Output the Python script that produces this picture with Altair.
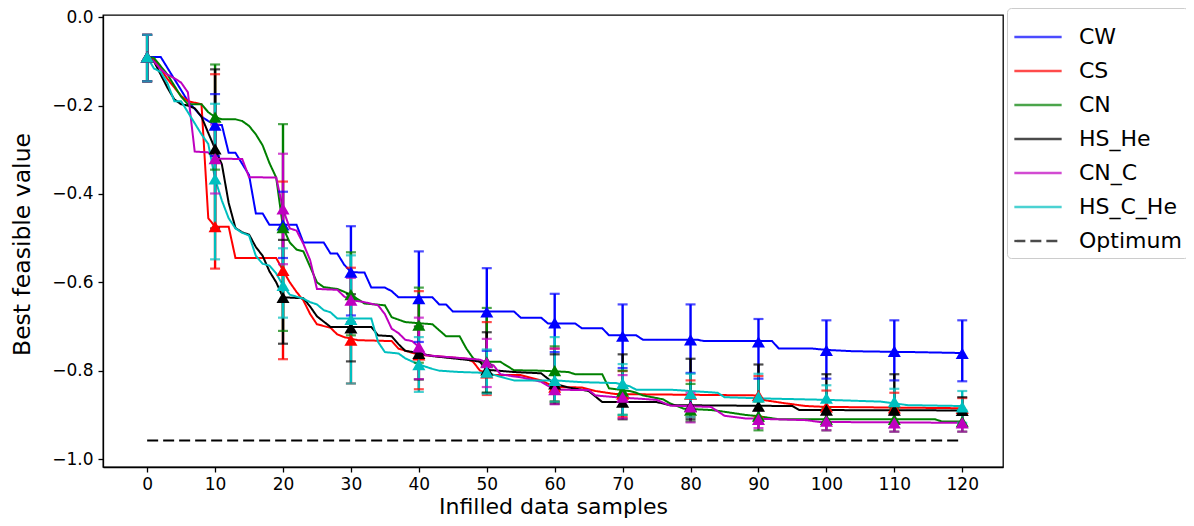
import altair as alt
import pandas as pd

SERIES = ["CW", "CS", "CN", "HS_He", "CN_C", "HS_C_He"]
COLORS = ["#0000ff", "#ff0000", "#008000", "#000000", "#bf00bf", "#00bfbf"]
LEGEND_ITEMS = SERIES + ["Optimum"]

# mean curves (knots)
CW_X = [0,2,4,6,8,9,10,11,12,13,15,16,17,18,20,22,23,26,27,28,29,30,32,33,35,36,37,42,43,44,45,54,55,58,59,63,64,67,68,72,73,81,82,92,93,98,100,104,113,120]
CW_Y = [-0.09,-0.09,-0.14,-0.19,-0.225,-0.235,-0.244,-0.244,-0.307,-0.307,-0.357,-0.444,-0.444,-0.47,-0.47,-0.47,-0.51,-0.51,-0.535,-0.535,-0.56,-0.577,-0.578,-0.612,-0.612,-0.62,-0.634,-0.634,-0.65,-0.65,-0.666,-0.666,-0.68,-0.68,-0.693,-0.693,-0.704,-0.704,-0.72,-0.72,-0.73,-0.73,-0.733,-0.733,-0.75,-0.75,-0.753,-0.756,-0.758,-0.76]

CS_X = [0,1,3,5,6,8,9,10,12,13,19,20,21,22,23,24,25,27,28,29,31,36,37,40,47,48,49,51,55,58,60,64,66,69,90,91,94,97,100,120]
CS_Y = [-0.09,-0.095,-0.14,-0.178,-0.19,-0.197,-0.455,-0.474,-0.474,-0.545,-0.545,-0.573,-0.6,-0.622,-0.641,-0.672,-0.695,-0.703,-0.718,-0.724,-0.731,-0.733,-0.75,-0.764,-0.773,-0.78,-0.80,-0.81,-0.81,-0.822,-0.837,-0.838,-0.846,-0.853,-0.856,-0.867,-0.874,-0.88,-0.882,-0.885]

CN_X = [0,1,3,5,6,8,9,10,11,13,14,15,16,17,18,19,20,21,22,23,24,25,26,28,30,32,35,36,38,42,44,46,47,48,49,52,54,58,62,63,67,68,71,72,73,76,77,79,83,85,88,90,93,116,117,120]
CN_Y = [-0.09,-0.092,-0.13,-0.18,-0.197,-0.197,-0.215,-0.226,-0.231,-0.231,-0.235,-0.246,-0.265,-0.29,-0.33,-0.363,-0.476,-0.51,-0.526,-0.53,-0.565,-0.6,-0.611,-0.615,-0.628,-0.648,-0.652,-0.679,-0.69,-0.695,-0.722,-0.722,-0.75,-0.772,-0.78,-0.78,-0.799,-0.80,-0.803,-0.808,-0.808,-0.84,-0.846,-0.85,-0.856,-0.865,-0.874,-0.886,-0.889,-0.893,-0.9,-0.903,-0.91,-0.91,-0.915,-0.915]

HS_X = [0,1,2,3,4,5,6,7,8,9,10,11,12,13,14,15,16,17,18,19,20,23,24,25,27,33,34,36,37,38,40,42,48,49,50,54,58,59,60,62,65,67,75,77,95,96,120]
HS_Y = [-0.09,-0.1,-0.13,-0.16,-0.186,-0.197,-0.2,-0.206,-0.225,-0.262,-0.298,-0.333,-0.42,-0.477,-0.487,-0.492,-0.52,-0.54,-0.575,-0.6,-0.634,-0.636,-0.655,-0.677,-0.701,-0.701,-0.72,-0.722,-0.74,-0.755,-0.76,-0.767,-0.777,-0.78,-0.798,-0.803,-0.806,-0.818,-0.83,-0.838,-0.846,-0.871,-0.871,-0.878,-0.88,-0.889,-0.89]

CNC_X = [0,1,2,3,4,5,6,7,9,10,14,15,19,20,21,22,23,24,25,28,29,30,32,34,35,36,37,38,39,40,41,49,50,51,52,54,55,58,60,65,66,69,75,77,83,85,88,97,99,120]
CNC_Y = [-0.09,-0.1,-0.118,-0.13,-0.138,-0.148,-0.17,-0.304,-0.306,-0.32,-0.321,-0.362,-0.363,-0.434,-0.478,-0.483,-0.513,-0.55,-0.615,-0.617,-0.632,-0.64,-0.645,-0.652,-0.672,-0.705,-0.715,-0.73,-0.733,-0.746,-0.765,-0.775,-0.782,-0.788,-0.808,-0.813,-0.815,-0.825,-0.843,-0.844,-0.856,-0.86,-0.866,-0.879,-0.882,-0.902,-0.908,-0.912,-0.916,-0.918]

HSC_X = [0,1,2,3,4,5,6,7,8,9,10,11,12,13,14,15,16,17,18,19,20,21,23,24,25,26,27,28,33,34,35,37,38,40,42,43,46,50,53,54,60,64,69,71,72,77,84,85,91,100,108,112,120]
HSC_Y = [-0.09,-0.116,-0.124,-0.15,-0.19,-0.19,-0.215,-0.24,-0.265,-0.287,-0.366,-0.415,-0.455,-0.478,-0.488,-0.494,-0.54,-0.558,-0.562,-0.58,-0.607,-0.628,-0.637,-0.645,-0.65,-0.663,-0.668,-0.682,-0.682,-0.735,-0.758,-0.761,-0.772,-0.786,-0.796,-0.8,-0.803,-0.805,-0.818,-0.822,-0.822,-0.826,-0.828,-0.835,-0.843,-0.843,-0.85,-0.86,-0.863,-0.866,-0.87,-0.878,-0.88]

OPT_X = [0, 120]
OPT_Y = [-0.958, -0.958]

# error bars every 10 samples
DEC_X = [0,10,20,30,40,50,60,70,80,90,100,110,120]
CW_MEAN = [-0.09,-0.244,-0.47,-0.577,-0.637,-0.667,-0.692,-0.722,-0.730,-0.735,-0.754,-0.756,-0.761]
CW_LO = [-0.145,-0.314,-0.545,-0.675,-0.735,-0.755,-0.758,-0.794,-0.805,-0.818,-0.818,-0.822,-0.824]
CW_HI = [-0.04,-0.174,-0.395,-0.473,-0.530,-0.568,-0.626,-0.650,-0.650,-0.683,-0.686,-0.686,-0.686]
CS_MEAN = [-0.09,-0.474,-0.573,-0.731,-0.764,-0.805,-0.837,-0.853,-0.853,-0.856,-0.882,-0.884,-0.885]
CS_LO = [-0.145,-0.569,-0.774,-0.829,-0.842,-0.855,-0.87,-0.905,-0.905,-0.905,-0.92,-0.92,-0.925]
CS_HI = [-0.04,-0.129,-0.372,-0.567,-0.620,-0.690,-0.75,-0.801,-0.822,-0.812,-0.845,-0.85,-0.862]
CN_MEAN = [-0.09,-0.226,-0.476,-0.628,-0.697,-0.78,-0.80,-0.846,-0.889,-0.903,-0.91,-0.91,-0.915]
CN_LO = [-0.145,-0.345,-0.71,-0.72,-0.782,-0.85,-0.87,-0.90,-0.915,-0.935,-0.935,-0.938,-0.938]
CN_HI = [-0.04,-0.107,-0.242,-0.532,-0.612,-0.658,-0.745,-0.80,-0.83,-0.87,-0.885,-0.885,-0.89]
HS_MEAN = [-0.09,-0.298,-0.634,-0.703,-0.761,-0.798,-0.83,-0.871,-0.88,-0.88,-0.889,-0.889,-0.89]
HS_LO = [-0.145,-0.478,-0.739,-0.779,-0.82,-0.85,-0.875,-0.91,-0.91,-0.915,-0.92,-0.92,-0.925]
HS_HI = [-0.04,-0.118,-0.504,-0.627,-0.70,-0.713,-0.763,-0.763,-0.773,-0.786,-0.808,-0.808,-0.86]
CNC_MEAN = [-0.09,-0.32,-0.434,-0.64,-0.746,-0.782,-0.843,-0.86,-0.882,-0.910,-0.914,-0.918,-0.918]
CNC_LO = [-0.145,-0.399,-0.559,-0.69,-0.819,-0.837,-0.876,-0.908,-0.917,-0.93,-0.935,-0.938,-0.938]
CNC_HI = [-0.04,-0.243,-0.309,-0.59,-0.680,-0.728,-0.75,-0.81,-0.85,-0.89,-0.89,-0.9,-0.9]
HSC_MEAN = [-0.09,-0.366,-0.607,-0.684,-0.786,-0.803,-0.822,-0.829,-0.852,-0.859,-0.862,-0.87,-0.882]
HSC_LO = [-0.145,-0.548,-0.68,-0.829,-0.848,-0.852,-0.87,-0.9,-0.905,-0.91,-0.89,-0.9,-0.918]
HSC_HI = [-0.04,-0.196,-0.523,-0.539,-0.724,-0.752,-0.724,-0.785,-0.807,-0.807,-0.833,-0.841,-0.846]

CURVES = [(CW_X, CW_Y), (CS_X, CS_Y), (CN_X, CN_Y), (HS_X, HS_Y), (CNC_X, CNC_Y), (HSC_X, HSC_Y)]
ERRS = [(CW_MEAN, CW_LO, CW_HI), (CS_MEAN, CS_LO, CS_HI), (CN_MEAN, CN_LO, CN_HI),
        (HS_MEAN, HS_LO, HS_HI), (CNC_MEAN, CNC_LO, CNC_HI), (HSC_MEAN, HSC_LO, HSC_HI)]

frames = []
for name, (xs, ys) in zip(SERIES, CURVES):
    d = pd.DataFrame({"x": xs, "y": ys})
    d["series"] = name
    frames.append(d)
d = pd.DataFrame({"x": OPT_X, "y": OPT_Y})
d["series"] = "Optimum"
frames.append(d)
line_df = pd.concat(frames, ignore_index=True)

eframes = []
for i, (name, (m, lo, hi)) in enumerate(zip(SERIES, ERRS)):
    d = pd.DataFrame({"x": DEC_X, "mean": m, "lo": lo, "hi": hi})
    d["series"] = name
    d["hex"] = COLORS[i]
    eframes.append(d)
err_df = pd.concat(eframes, ignore_index=True)

FONT = "DejaVu Sans"
xscale = alt.Scale(domain=[-6.5, 126], nice=False, zero=False)
yscale = alt.Scale(domain=[-1.018, 0.005], nice=False, zero=False)
xaxis = alt.Axis(values=DEC_X, format="d", title="Infilled data samples", grid=False,
                 titleY=46, titleBaseline="alphabetic", titleFontSize=22, labelPadding=4)
yaxis = alt.Axis(values=[0.0, -0.2, -0.4, -0.6, -0.8, -1.0], format=".1f",
                 title="Best feasible value", grid=False,
                 titleX=-81, titleY=229, titleBaseline="middle", titleAlign="center", titleAngle=270)

legend = alt.Legend(title=None, orient="none", legendX=904, legendY=-7,
                    symbolType="M-1.1,0H1.1", symbolSize=1850, symbolStrokeWidth=2.4,
                    labelFontSize=22, labelFont=FONT, labelOffset=18, labelColor="black",
                    padding=6, rowPadding=0, strokeColor="#cccccc", fillColor="white",
                    cornerRadius=4, symbolOffset=2)

lines = alt.Chart(line_df).mark_line(strokeWidth=2).encode(
    x=alt.X("x:Q", scale=xscale, axis=xaxis),
    y=alt.Y("y:Q", scale=yscale, axis=yaxis),
    color=alt.Color("series:N", scale=alt.Scale(domain=LEGEND_ITEMS, range=COLORS + ["#000000"]),
                    legend=legend),
    strokeDash=alt.StrokeDash("series:N", scale=alt.Scale(domain=LEGEND_ITEMS,
                              range=[[1, 0]] * 6 + [[11, 5]]), legend=legend),
    strokeWidth=alt.StrokeWidth("series:N", scale=alt.Scale(domain=LEGEND_ITEMS,
                                range=[2.3] * 6 + [2.8]), legend=None),
)

rules = alt.Chart(err_df).mark_rule(strokeWidth=2.4).encode(
    x="x:Q", y="lo:Q", y2="hi:Q", color=alt.Color("hex:N", scale=None))
cap_lo = alt.Chart(err_df).mark_tick(orient="horizontal", size=10, thickness=2.2).encode(
    x="x:Q", y="lo:Q", color=alt.Color("hex:N", scale=None))
cap_hi = alt.Chart(err_df).mark_tick(orient="horizontal", size=10, thickness=2.2).encode(
    x="x:Q", y="hi:Q", color=alt.Color("hex:N", scale=None))
tri = alt.Chart(err_df).mark_point(shape="triangle-up", filled=True, size=170, opacity=1).encode(
    x="x:Q", y="mean:Q", color=alt.Color("hex:N", scale=None))

chart = alt.layer(lines, rules, cap_lo, cap_hi, tri).properties(
    width=900, height=452,
    autosize=alt.AutoSizeParams(type="none"),
    padding={"left": 95, "top": 7, "right": 183, "bottom": 51},
).configure_view(stroke="black", strokeWidth=1.3).configure_axis(
    labelFont=FONT, labelFontSize=17, labelColor="black",
    titleFont=FONT, titleFontSize=23.5, titleFontWeight="normal", titleColor="black",
    domainColor="black", domainWidth=1.3, tickColor="black", tickWidth=1.3, tickSize=5,
    labelPadding=5,
)

chart.save("out.html", embed_options={"renderer": "svg", "actions": False})
